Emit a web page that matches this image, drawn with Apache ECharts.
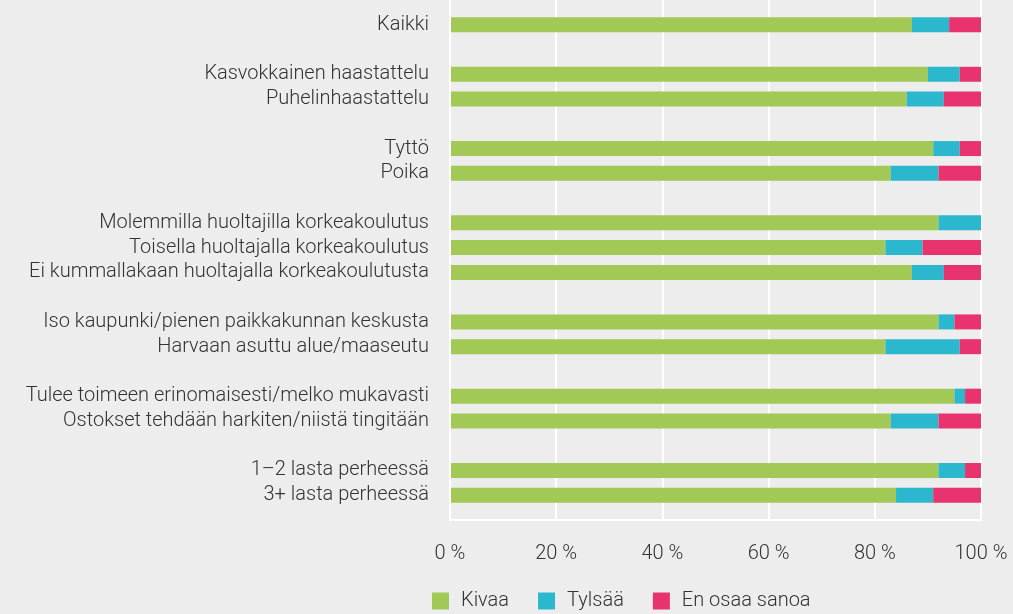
<!DOCTYPE html>
<html>
<head>
<meta charset="utf-8">
<script src="https://cdn.jsdelivr.net/npm/echarts@6/dist/echarts.min.js"></script>
<style>
  html, body { margin: 0; padding: 0; background: #ededed; }
  #chart { width: 1013px; height: 614px; }
</style>
</head>
<body>
<div id="chart"></div>
<script>
// '' rows are the empty spacer rows between groups
const categories = [
  '', 'Kaikki', '',
  'Kasvokkainen haastattelu', 'Puhelinhaastattelu', '',
  'Tyttö', 'Poika', '',
  'Molemmilla huoltajilla korkeakoulutus', 'Toisella huoltajalla korkeakoulutus', 'Ei kummallakaan huoltajalla korkeakoulutusta', '',
  'Iso kaupunki/pienen paikkakunnan keskusta', 'Harvaan asuttu alue/maaseutu', '',
  'Tulee toimeen erinomaisesti/melko mukavasti', 'Ostokset tehdään harkiten/niistä tingitään', '',
  '1–2 lasta perheessä', '3+ lasta perheessä', ''
];
const kivaa   = ['-', 87, '-', 90, 86, '-', 91, 83, '-', 92, 82, 87, '-', 92, 82, '-', 95, 83, '-', 92, 84, '-'];
const tylsaa  = ['-', 7,  '-', 6,  7,  '-', 5,  9,  '-', 8,  7,  6,  '-', 3,  14, '-', 2,  9,  '-', 5,  7,  '-'];
const enOsaa  = ['-', 6,  '-', 4,  7,  '-', 4,  8,  '-', 0,  11, 7,  '-', 5,  4,  '-', 3,  8,  '-', 3,  9,  '-'];
const seriesNames = ['Kivaa', 'Tylsää', 'En osaa sanoa'];
const colors = ['#a2c855', '#2bb8cf', '#e8336e'];

const font = 'Roboto, "Noto Sans", sans-serif';
const chart = echarts.init(document.getElementById('chart'));

const mkSeries = (name, data, color) => ({
  name: name,
  type: 'bar',
  stack: 'total',
  barWidth: 15,
  data: data,
  itemStyle: { color: color },
  emphasis: { disabled: true }
});

chart.setOption({
  animation: false,
  backgroundColor: '#ededed',
  textStyle: { fontFamily: font },
  grid: { left: 450, right: 32, top: 0, bottom: 94 },
  legend: {
    left: 432,
    top: 591,
    padding: 0,
    itemWidth: 17,
    itemHeight: 17,
    itemGap: 29,
    icon: 'rect',
    data: seriesNames,
    textStyle: { color: '#333', fontSize: 20, fontWeight: 300, fontFamily: font, padding: [0, 0, 0, 7] }
  },
  xAxis: {
    type: 'value',
    min: 0,
    max: 100,
    interval: 20,
    axisLine: { show: true, lineStyle: { color: '#ffffff', width: 2 } },
    axisTick: { show: false },
    axisLabel: {
      color: '#333', fontSize: 20, fontWeight: 300, margin: 24,
      formatter: v => v + ' %'
    },
    splitLine: { show: true, lineStyle: { color: '#ffffff', width: 2 } }
  },
  yAxis: {
    type: 'category',
    data: categories,
    inverse: true,
    boundaryGap: false,
    z: 5,
    axisLine: { show: true, lineStyle: { color: '#ffffff', width: 2 } },
    axisTick: { show: false },
    axisLabel: { color: '#333', fontSize: 20, fontWeight: 300, margin: 21, interval: 0 },
    splitLine: { show: false }
  },
  series: [
    mkSeries(seriesNames[0], kivaa, colors[0]),
    mkSeries(seriesNames[1], tylsaa, colors[1]),
    mkSeries(seriesNames[2], enOsaa, colors[2])
  ]
});
</script>
</body>
</html>
